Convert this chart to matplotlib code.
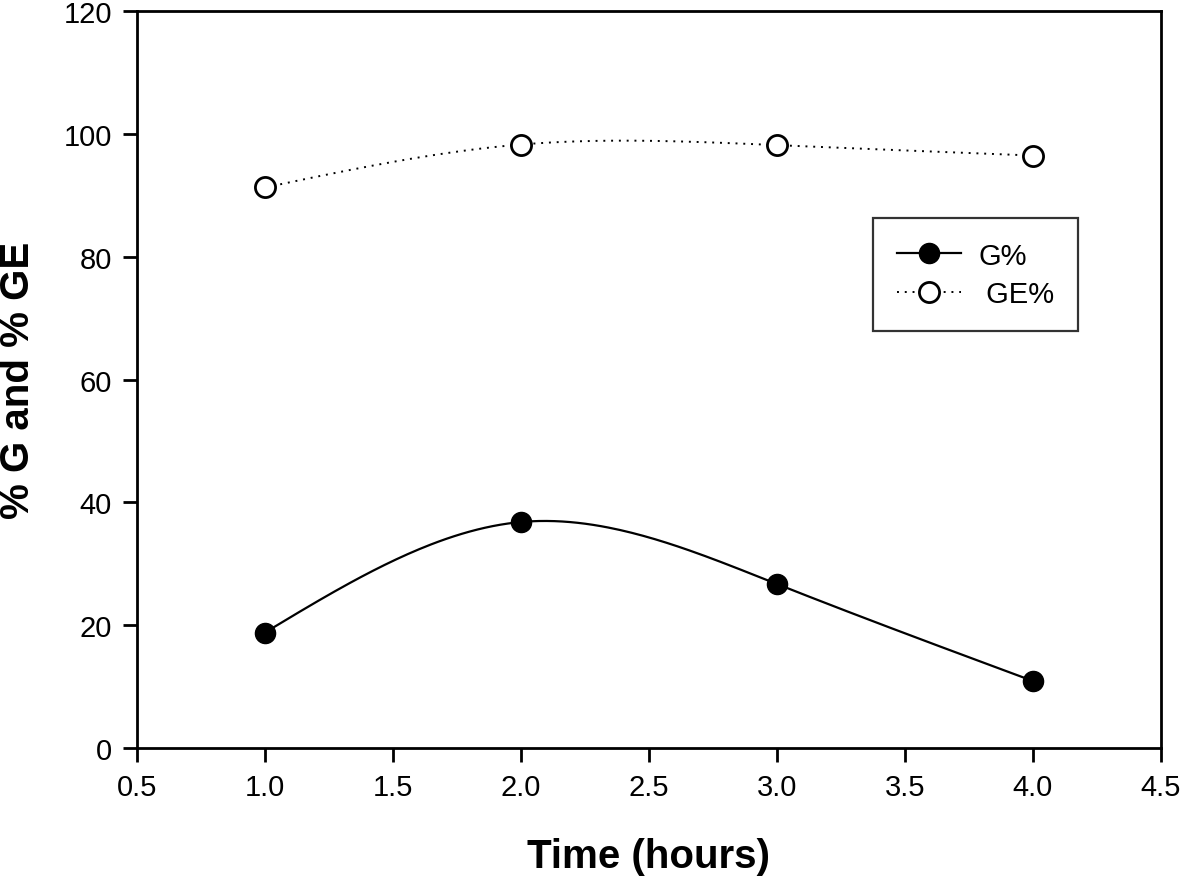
import numpy as np
import matplotlib
matplotlib.use("Agg")
import matplotlib.pyplot as plt
from matplotlib.lines import Line2D

plt.rcParams['font.family'] = ['Liberation Sans', 'DejaVu Sans']

time_h = [1.0, 2.0, 3.0, 4.0]
g_pct = [18.8, 36.8, 26.7, 10.9]
ge_pct = [91.3, 98.3, 98.2, 96.5]


def natural_spline(x, y, n=200):
    x = np.asarray(x, float)
    y = np.asarray(y, float)
    m = len(x)
    h = np.diff(x)
    A = np.zeros((m, m))
    b = np.zeros(m)
    A[0, 0] = 1
    A[-1, -1] = 1
    for i in range(1, m - 1):
        A[i, i - 1] = h[i - 1]
        A[i, i] = 2 * (h[i - 1] + h[i])
        A[i, i + 1] = h[i]
        b[i] = 3 * ((y[i + 1] - y[i]) / h[i] - (y[i] - y[i - 1]) / h[i - 1])
    c = np.linalg.solve(A, b)
    xs = np.linspace(x[0], x[-1], n)
    ys = np.empty_like(xs)
    for k, xv in enumerate(xs):
        i = min(np.searchsorted(x, xv, side='right') - 1, m - 2)
        dx = xv - x[i]
        bi = (y[i + 1] - y[i]) / h[i] - h[i] * (2 * c[i] + c[i + 1]) / 3
        di = (c[i + 1] - c[i]) / (3 * h[i])
        ys[k] = y[i] + bi * dx + c[i] * dx ** 2 + di * dx ** 3
    return xs, ys


fig = plt.figure(figsize=(11.81, 8.79), dpi=100)
ax = fig.add_axes([0.116, 0.148, 0.867, 0.838])

MS = 14.5
xs, ys = natural_spline(time_h, g_pct)
ax.plot(xs, ys, color='black', lw=1.6)
ax.plot(time_h, g_pct, 'o', color='black', ms=MS, mfc='black', mec='black')

xs2, ys2 = natural_spline(time_h, ge_pct)
ax.plot(xs2, ys2, color='black', lw=1.4, ls=(0, (1, 3)))
ax.plot(time_h, ge_pct, 'o', color='black', ms=MS, mfc='white', mec='black', mew=2)

ax.set_xlim(0.5, 4.5)
ax.set_ylim(0, 120)
ax.set_xticks(np.arange(0.5, 4.51, 0.5))
ax.set_xticklabels([f"{v:.1f}" for v in np.arange(0.5, 4.51, 0.5)])
ax.set_yticks(np.arange(0, 121, 20))
for s in ax.spines.values():
    s.set_linewidth(2)
ax.tick_params(direction='out', length=10, width=2, labelsize=21, pad=8)

ax.set_xlabel('Time (hours)', fontsize=29, fontweight='bold', labelpad=26)
ax.set_ylabel('% G and % GE', fontsize=29, fontweight='bold', labelpad=19)

handles = [
    Line2D([], [], color='black', lw=1.6, marker='o', ms=MS, mfc='black'),
    Line2D([], [], color='black', lw=1.4, ls=(0, (1, 3)), marker='o', ms=MS, mfc='white', mew=2),
]
leg = ax.legend(handles, ['G%', ' GE%'], loc='upper left', bbox_to_anchor=(0.719, 0.719),
                fontsize=21, frameon=True, fancybox=False, edgecolor='black',
                handlelength=2.2, borderpad=0.8, labelspacing=0.35, handletextpad=0.6,
                borderaxespad=0)
leg.get_frame().set_linewidth(1.6)

fig.savefig('out.png', dpi=100)
